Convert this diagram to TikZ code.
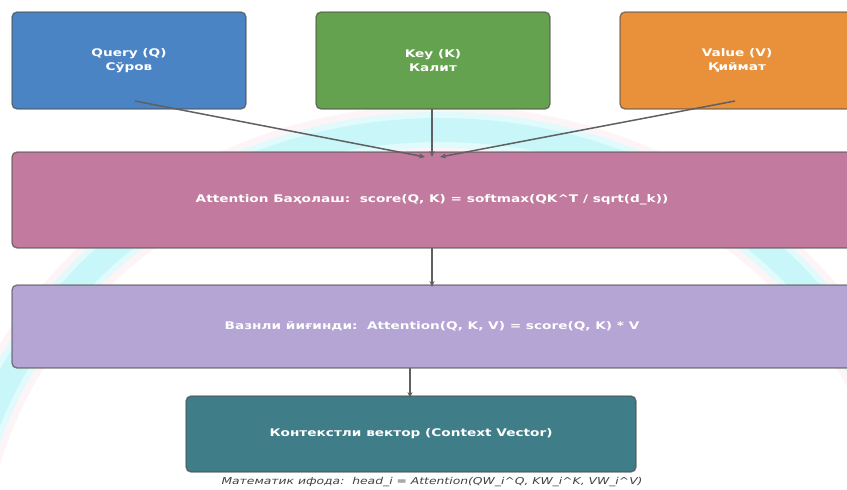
\documentclass[tikz,border=0pt]{standalone}
\usepackage{fontspec}
\usepackage{graphicx}
\setmainfont{DejaVu Sans}
\usetikzlibrary{arrows.meta}
\definecolor{cQ}{HTML}{4A84C4}
\definecolor{cK}{HTML}{64A24F}
\definecolor{cV}{HTML}{E8913A}
\definecolor{cA}{HTML}{C27B9F}
\definecolor{cW}{HTML}{B4A5D5}
\definecolor{cC}{HTML}{3F7D89}
\definecolor{cArc}{HTML}{C9F7F9}
\definecolor{cFr}{HTML}{FCEFF3}
\definecolor{cArr}{HTML}{606060}
\newcommand\sxx[1]{\scalebox{1.3}[1]{#1}}
\tikzset{
  box/.style={draw=black!70, draw opacity=0.7, line width=1.3pt, rounded corners=5pt,
    text=white, font=\bfseries\fontsize{10.5}{14}\selectfont, align=center, inner sep=0pt},
  arr/.style={draw=cArr, line width=1.5pt, -{Stealth[length=6pt,width=5pt]}},
}
\begin{document}
\begin{tikzpicture}[x=1pt,y=-1pt]
\useasboundingbox (0,0) rectangle (847,490);
\begin{scope}
\clip (0,0) rectangle (847,490);
% background arc
\draw[cFr, line width=50pt, opacity=0.7] (440,580) ellipse [x radius=482, y radius=450];
\draw[cArc!55, line width=36pt] (440,580) ellipse [x radius=482, y radius=450];
\draw[cArc, line width=24pt] (440,580) ellipse [x radius=482, y radius=450];
% boxes
\node[box, fill=cQ, minimum width=234pt, minimum height=97pt] (q) at (129,60.5) {\sxx{Query (Q)}\\\sxx{Сўров}};
\node[box, fill=cK, minimum width=234pt, minimum height=97pt] (k) at (433,60.5) {\sxx{Key (K)}\\\sxx{Калит}};
\node[box, fill=cV, minimum width=234pt, minimum height=97pt] (v) at (737,60.5) {\sxx{Value (V)}\\\sxx{Қиймат}};
\node[box, fill=cA, minimum width=840pt, minimum height=96pt] (a) at (432,200) {\sxx{Attention Баҳолаш:\ \ score(Q, K) = softmax(QK\^{}T / sqrt(d\_k))}};
\node[box, fill=cW, minimum width=840pt, minimum height=83pt] (w) at (432,326.5) {\sxx{Вазнли йиғинди:\ \ Attention(Q, K, V) = score(Q, K) * V}};
\node[box, fill=cC, minimum width=450pt, minimum height=76pt] (c) at (411,434) {\sxx{Контекстли вектор (Context Vector)}};
\node[text=black!75, font=\itshape\fontsize{9.5}{10}\selectfont, inner sep=0pt] (m) at (432,482) {\sxx{Математик ифода:\ \ head\_i = Attention(QW\_i\^{}Q, KW\_i\^{}K, VW\_i\^{}V)}};
% connectors
\coordinate (qs) at (135,101);
\coordinate (ks) at (432,109);
\coordinate (vs) at (735,101);
\coordinate (qe) at (425,157);
\coordinate (ke) at (432,157);
\coordinate (ve) at (440,157);
\coordinate (as) at (432,248);
\coordinate (ae) at (432,287);
\coordinate (ws) at (410,368);
\coordinate (we) at (410,398);
\draw[arr] (qs) -- (qe);
\draw[arr] (ks) -- (ke);
\draw[arr] (vs) -- (ve);
\draw[arr] (as) -- (ae);
\draw[arr] (ws) -- (we);
\end{scope}
\end{tikzpicture}
\end{document}
